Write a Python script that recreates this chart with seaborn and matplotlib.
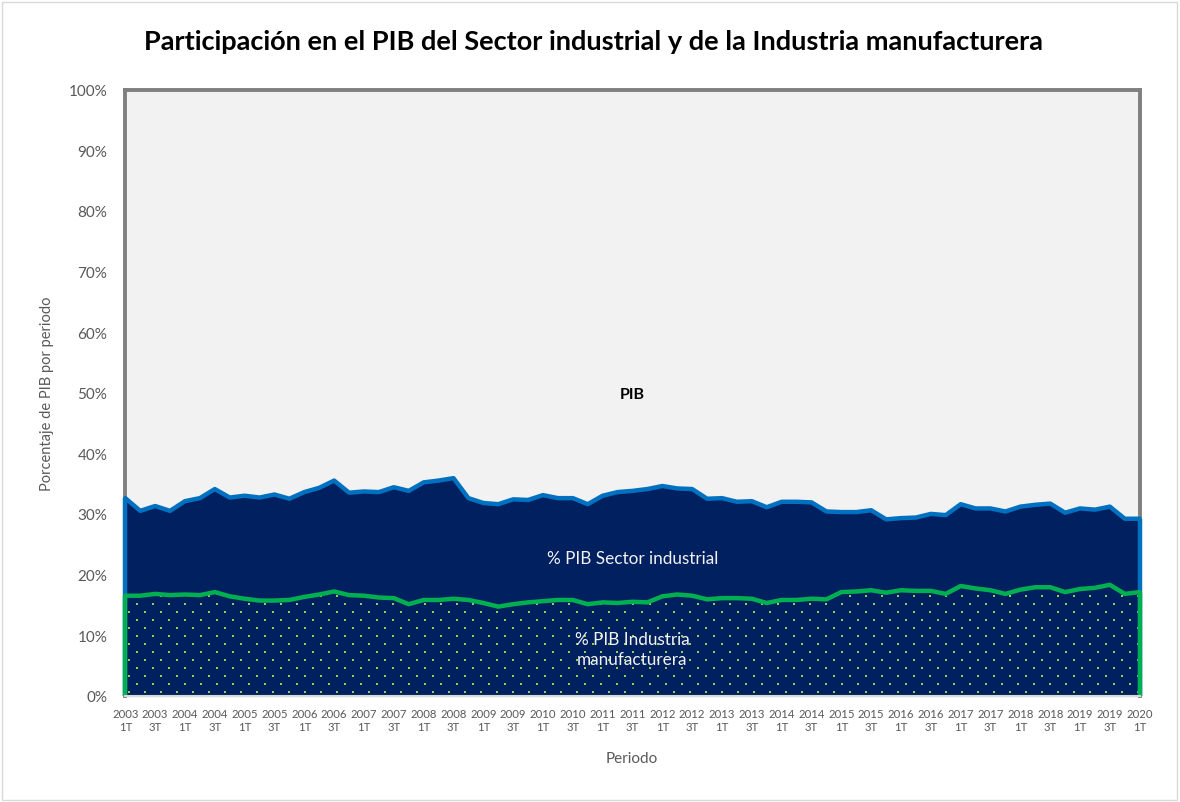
import seaborn as sns
import matplotlib.pyplot as plt
import matplotlib.patches as patches
import numpy as np
import pandas as pd

# Datos trimestrales 2003 1T - 2020 1T (% del PIB)
years = list(range(2003, 2021))
quarters = ['1T', '2T', '3T', '4T']
periodos = [f"{y}\n{q}" for y in years for q in quarters][:69]

sector_industrial = [32.6, 30.5, 31.3, 30.5, 32.1, 32.6, 34.1, 32.7, 33.0, 32.7,
                     33.2, 32.5, 33.6, 34.3, 35.5, 33.5, 33.7, 33.6, 34.4, 33.8,
                     35.2, 35.5, 35.9, 32.6, 31.8, 31.6, 32.4, 32.3, 33.1, 32.6,
                     32.6, 31.6, 33.0, 33.6, 33.8, 34.1, 34.6, 34.2, 34.1, 32.5,
                     32.6, 32.0, 32.1, 31.1, 32.0, 32.0, 31.9, 30.4, 30.3, 30.3,
                     30.6, 29.1, 29.3, 29.4, 30.0, 29.8, 31.6, 30.9, 30.9, 30.4,
                     31.2, 31.5, 31.7, 30.2, 30.9, 30.7, 31.2, 29.2, 29.2]
industria_manuf = [16.5, 16.5, 16.8, 16.6, 16.7, 16.6, 17.1, 16.4, 16.0, 15.7,
                   15.7, 15.8, 16.3, 16.7, 17.2, 16.6, 16.5, 16.2, 16.1, 15.1,
                   15.8, 15.8, 16.0, 15.8, 15.3, 14.7, 15.1, 15.4, 15.6, 15.8,
                   15.8, 15.1, 15.4, 15.3, 15.5, 15.4, 16.4, 16.7, 16.5, 15.9,
                   16.1, 16.1, 16.0, 15.3, 15.8, 15.8, 16.0, 15.9, 17.1, 17.2,
                   17.4, 17.0, 17.4, 17.3, 17.3, 16.8, 18.1, 17.7, 17.4, 16.8,
                   17.5, 17.9, 17.9, 17.1, 17.6, 17.8, 18.3, 16.8, 17.1]
pib_total = 100

df = pd.DataFrame({'idx': np.arange(len(periodos)),
                   'periodo': periodos,
                   'sector': sector_industrial,
                   'manuf': industria_manuf})

sns.set_theme(style="white")
plt.rcParams['font.family'] = ['Lato', 'DejaVu Sans']

gris = '#595959'
navy = '#002060'
azul = '#0070c0'
verde = '#00b050'

fig = plt.figure(figsize=(11.8, 8.03), dpi=100)
fig.patch.set_facecolor('white')
fig.patches.append(patches.Rectangle((2 / 1180, 2 / 803), 1175 / 1180, 798 / 803,
                                     transform=fig.transFigure, fill=False,
                                     edgecolor='#d9d9d9', lw=1))
ax = fig.add_axes([125.3 / 1180, 1 - 696.7 / 803, 1014.4 / 1180, 606 / 803])

x = df['idx']
# areas
ax.fill_between(x, df['sector'], pib_total, color='#f2f2f2', lw=0, zorder=1)
ax.fill_between(x, 0, df['sector'], color=navy, lw=0, zorder=1.2)
manuf_fill = ax.fill_between(x, 0, df['manuf'], color=navy, lw=0, zorder=1.4)

# patron de puntos para la industria manufacturera
fig.canvas.draw()
bb = ax.get_window_extent()
h, w = int(round(bb.height)), int(round(bb.width))
tex = np.zeros((h, w, 4))
rgb = np.array([0x92, 0xd0, 0x50]) / 255
for r in range(3, h, 8):
    off = 0 if (r // 8) % 2 == 0 else 8
    for c in range(off + 3, w - 1, 16):
        tex[h - 1 - r - 1:h - 1 - r + 1, c:c + 2, :3] = rgb
        tex[h - 1 - r - 1:h - 1 - r + 1, c:c + 2, 3] = 1
im = ax.imshow(tex, extent=(x.min(), x.max(), 0, pib_total), aspect='auto',
               interpolation='nearest', zorder=1.5)
im.set_clip_path(manuf_fill.get_paths()[0], transform=ax.transData)

# lineas
sns.lineplot(data=df, x='idx', y='sector', color=azul, lw=3.2, ax=ax,
             zorder=4, clip_on=False)
ax.vlines([x.iloc[0], x.iloc[-1]], 0, [df['sector'].iloc[0], df['sector'].iloc[-1]],
          color=azul, lw=3.2, zorder=4, clip_on=False)
sns.lineplot(data=df, x='idx', y='manuf', color=verde, lw=3.2, ax=ax,
             zorder=5, clip_on=False)
ax.vlines([x.iloc[0], x.iloc[-1]], 0, [df['manuf'].iloc[0], df['manuf'].iloc[-1]],
          color=verde, lw=3.2, zorder=5, clip_on=False)
ax.hlines(0, x.iloc[0], x.iloc[-1], color=verde, lw=1.5, zorder=5, clip_on=False)

ax.set_xlim(x.min(), x.max())
ax.set_ylim(0, pib_total)

# ejes
for s in ['left', 'top', 'right']:
    ax.spines[s].set_color('#808080')
    ax.spines[s].set_linewidth(2.8)
    ax.spines[s].set_zorder(3)
ax.spines['bottom'].set_color('#d9d9d9')
ax.spines['bottom'].set_linewidth(1.5)
ax.spines['bottom'].set_zorder(6)

ax.set_yticks(np.arange(0, 101, 10))
ax.set_yticklabels([f"{v}%" for v in range(0, 101, 10)], fontsize=11, color=gris)
ax.set_xticks(x)
ax.set_xticklabels([p if i % 2 == 0 else '' for i, p in enumerate(periodos)],
                   fontsize=8.2, color=gris, linespacing=1.25)
ax.tick_params(axis='y', length=0, pad=13)
ax.tick_params(axis='x', length=3, width=1, color='#bfbfbf', direction='out', pad=6)
ax.set_xlabel('')
ax.set_ylabel('')
ax.grid(False)

# etiquetas de series
xm = (x.min() + x.max()) / 2
ax.text(xm, 49.8, 'PIB', ha='center', va='center', fontsize=11.5,
        fontweight='bold', color='black', zorder=7)
ax.text(xm, 22.7, '% PIB Sector industrial', ha='center', va='center',
        fontsize=12.3, color='#f2f2f2', zorder=7)
ax.text(xm, 7.7, '% PIB Industria\nmanufacturera', ha='center', va='center',
        fontsize=12.3, color='#f2f2f2', zorder=7, linespacing=1.25)

fig.text(593 / 1180, 1 - 42 / 803,
         'Participación en el PIB del Sector industrial y de la Industria manufacturera',
         ha='center', va='center', fontsize=19.5, fontweight='bold', color='black')
fig.text(47 / 1180, 1 - 394 / 803, 'Porcentaje de PIB por periodo', rotation=90,
         ha='center', va='center', fontsize=10.5, color=gris)
fig.text(632 / 1180, 1 - 759 / 803, 'Periodo', ha='center', va='center',
         fontsize=11, color=gris)

fig.savefig('out.png', dpi=100)
